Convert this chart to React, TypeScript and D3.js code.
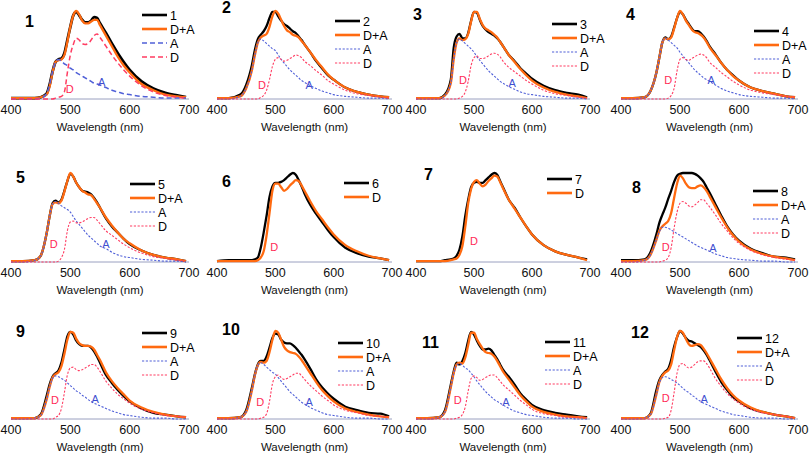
import React from 'react';
import { scaleLinear, line as d3line, curveMonotoneX } from 'd3';

// shared wavelength grid (nm)
const wavelengths = [400, 420, 440, 450, 460, 465, 470, 475, 480, 485, 490, 495, 500, 505, 510, 515, 520, 525, 530, 535, 540, 545, 550, 560, 570, 580, 590, 600, 620, 640, 660, 680, 695];
const xTicks = [400, 500, 600, 700];

// measured spectra (black)
const m1 = [0.01,0.01,0.01,0.02,0.06,0.16,0.31,0.42,0.45,0.46,0.52,0.67,0.82,0.95,0.99,0.95,0.90,0.87,0.87,0.89,0.93,0.92,0.86,0.75,0.63,0.52,0.42,0.33,0.20,0.12,0.07,0.04,0.02];
const m2 = [0.01,0.01,0.05,0.16,0.39,0.56,0.68,0.73,0.77,0.83,0.92,0.99,0.99,0.94,0.89,0.85,0.83,0.80,0.77,0.75,0.71,0.67,0.62,0.53,0.43,0.35,0.27,0.22,0.13,0.08,0.05,0.03,0.02];
const m3 = [0.01,0.01,0.01,0.05,0.22,0.58,0.71,0.74,0.69,0.69,0.75,0.89,0.99,0.98,0.90,0.83,0.79,0.76,0.74,0.72,0.69,0.65,0.60,0.50,0.43,0.35,0.29,0.23,0.15,0.10,0.07,0.05,0.02];
const m4 = [0.01,0.01,0.02,0.09,0.30,0.47,0.64,0.70,0.68,0.71,0.81,0.92,0.99,0.96,0.90,0.85,0.80,0.77,0.77,0.75,0.71,0.66,0.60,0.51,0.41,0.33,0.27,0.21,0.13,0.09,0.06,0.03,0.02];
const m5 = [0.01,0.01,0.02,0.07,0.32,0.51,0.66,0.69,0.67,0.70,0.80,0.91,0.99,0.96,0.89,0.84,0.80,0.79,0.78,0.76,0.72,0.67,0.61,0.49,0.40,0.33,0.26,0.20,0.13,0.08,0.05,0.03,0.01];
const m6 = [0.01,0.02,0.02,0.02,0.02,0.03,0.05,0.16,0.33,0.52,0.73,0.85,0.89,0.89,0.90,0.92,0.95,0.98,1.00,0.98,0.92,0.85,0.77,0.64,0.54,0.45,0.36,0.28,0.16,0.10,0.06,0.04,0.02];
const m7 = [0.01,0.01,0.01,0.02,0.03,0.04,0.07,0.14,0.29,0.52,0.70,0.84,0.89,0.90,0.89,0.89,0.92,0.95,0.98,1.00,0.98,0.91,0.84,0.70,0.61,0.50,0.40,0.31,0.19,0.12,0.08,0.05,0.03];
const m8 = [0.02,0.02,0.03,0.11,0.31,0.44,0.53,0.61,0.71,0.80,0.90,0.97,0.99,1.00,1.00,1.00,1.00,0.99,0.97,0.94,0.90,0.84,0.78,0.65,0.52,0.40,0.31,0.24,0.15,0.10,0.06,0.05,0.03];
const m9 = [0.01,0.01,0.01,0.05,0.26,0.39,0.48,0.52,0.55,0.64,0.79,0.94,0.99,0.96,0.89,0.85,0.83,0.83,0.83,0.81,0.77,0.71,0.64,0.50,0.41,0.33,0.26,0.20,0.12,0.07,0.05,0.03,0.02];
const m10 = [0.01,0.01,0.02,0.10,0.36,0.51,0.62,0.66,0.66,0.71,0.81,0.92,0.97,0.96,0.90,0.87,0.86,0.86,0.84,0.81,0.77,0.73,0.68,0.57,0.45,0.36,0.29,0.23,0.14,0.10,0.07,0.06,0.03];
const m11 = [0.01,0.01,0.02,0.10,0.39,0.54,0.64,0.62,0.66,0.75,0.89,0.99,0.96,0.89,0.83,0.79,0.79,0.80,0.78,0.73,0.68,0.62,0.56,0.48,0.39,0.29,0.22,0.16,0.10,0.07,0.05,0.03,0.02];
const m12 = [0.01,0.01,0.01,0.06,0.33,0.44,0.50,0.54,0.57,0.67,0.82,0.93,1.00,0.97,0.92,0.89,0.88,0.86,0.84,0.82,0.78,0.73,0.67,0.54,0.42,0.33,0.25,0.20,0.12,0.08,0.05,0.03,0.01];

// fitted D+A (orange); panels 6 and 7 show D only
const f1 = [0.01,0.01,0.01,0.02,0.05,0.14,0.30,0.42,0.44,0.45,0.50,0.65,0.82,0.95,1.00,0.96,0.89,0.86,0.86,0.88,0.90,0.90,0.84,0.72,0.60,0.48,0.38,0.30,0.17,0.10,0.05,0.03,0.02];
const f2 = [0.01,0.01,0.03,0.12,0.33,0.50,0.64,0.70,0.72,0.74,0.82,0.94,1.00,0.97,0.90,0.83,0.78,0.76,0.73,0.72,0.70,0.66,0.62,0.53,0.44,0.36,0.28,0.22,0.13,0.08,0.05,0.03,0.02];
const f3 = [0.01,0.01,0.01,0.04,0.18,0.45,0.64,0.69,0.67,0.68,0.74,0.88,0.99,0.99,0.91,0.84,0.80,0.78,0.76,0.73,0.70,0.65,0.60,0.50,0.42,0.34,0.27,0.21,0.13,0.08,0.05,0.03,0.01];
const f4 = [0.01,0.01,0.02,0.09,0.30,0.47,0.64,0.69,0.68,0.70,0.80,0.92,1.00,0.96,0.89,0.84,0.79,0.76,0.75,0.73,0.70,0.65,0.59,0.50,0.41,0.33,0.26,0.21,0.13,0.09,0.06,0.03,0.02];
const f5 = [0.01,0.01,0.02,0.07,0.32,0.51,0.65,0.67,0.66,0.69,0.79,0.91,1.00,0.96,0.89,0.84,0.80,0.78,0.76,0.75,0.71,0.66,0.61,0.50,0.41,0.33,0.26,0.21,0.13,0.08,0.05,0.03,0.01];
const f6 = [0.01,0.01,0.01,0.01,0.01,0.01,0.02,0.05,0.12,0.30,0.55,0.80,0.88,0.88,0.84,0.80,0.82,0.86,0.89,0.92,0.91,0.86,0.80,0.68,0.57,0.48,0.39,0.31,0.19,0.12,0.07,0.04,0.02];
const f7 = [0.01,0.01,0.01,0.01,0.02,0.03,0.04,0.08,0.18,0.40,0.66,0.82,0.90,0.92,0.88,0.85,0.87,0.91,0.94,0.97,0.96,0.90,0.83,0.70,0.60,0.50,0.40,0.31,0.19,0.12,0.08,0.05,0.02];
const f8 = [0.01,0.01,0.02,0.08,0.25,0.35,0.40,0.43,0.46,0.55,0.72,0.88,0.97,0.94,0.88,0.84,0.83,0.83,0.85,0.86,0.84,0.80,0.74,0.62,0.50,0.39,0.30,0.23,0.14,0.09,0.06,0.04,0.02];
const f9 = [0.01,0.01,0.01,0.04,0.22,0.36,0.47,0.51,0.53,0.60,0.74,0.90,0.99,0.98,0.91,0.86,0.84,0.83,0.83,0.82,0.79,0.73,0.67,0.53,0.43,0.35,0.28,0.21,0.13,0.08,0.05,0.03,0.02];
const f10 = [0.01,0.01,0.02,0.08,0.33,0.50,0.61,0.65,0.64,0.66,0.76,0.90,1.00,0.98,0.90,0.82,0.78,0.76,0.75,0.74,0.71,0.67,0.62,0.52,0.42,0.33,0.26,0.20,0.12,0.08,0.05,0.03,0.02];
const f11 = [0.01,0.01,0.02,0.08,0.36,0.52,0.62,0.64,0.63,0.70,0.84,0.98,0.98,0.91,0.85,0.80,0.76,0.75,0.74,0.71,0.66,0.60,0.54,0.45,0.36,0.27,0.20,0.14,0.08,0.05,0.03,0.02,0.01];
const f12 = [0.01,0.01,0.01,0.05,0.28,0.42,0.49,0.53,0.55,0.62,0.78,0.93,1.00,0.98,0.91,0.85,0.83,0.84,0.85,0.84,0.80,0.75,0.69,0.57,0.45,0.35,0.27,0.21,0.13,0.08,0.05,0.03,0.01];

// component A (blue dashed)
const a1 = [0,0,0,0.01,0.06,0.16,0.31,0.42,0.45,0.43,0.40,0.38,0.35,0.33,0.30,0.28,0.26,0.24,0.22,0.20,0.18,0.17,0.16,0.13,0.10,0.08,0.06,0.05,0.03,0.02,0.01,0.01,0.01];
const a2 = [0,0,0.03,0.12,0.33,0.50,0.64,0.68,0.66,0.63,0.60,0.57,0.55,0.50,0.45,0.41,0.37,0.33,0.30,0.27,0.24,0.21,0.19,0.15,0.12,0.09,0.07,0.05,0.03,0.02,0.01,0.01,0];
const a3 = [0,0,0,0.04,0.18,0.45,0.64,0.68,0.66,0.63,0.60,0.57,0.53,0.48,0.44,0.40,0.36,0.32,0.29,0.26,0.23,0.20,0.18,0.14,0.11,0.08,0.06,0.05,0.03,0.02,0.01,0.01,0];
const a4 = [0,0,0.02,0.09,0.30,0.47,0.64,0.69,0.67,0.64,0.61,0.58,0.53,0.49,0.45,0.41,0.37,0.33,0.30,0.27,0.24,0.22,0.20,0.16,0.12,0.09,0.07,0.05,0.03,0.02,0.01,0.01,0];
const a5 = [0,0,0.02,0.07,0.32,0.51,0.65,0.68,0.66,0.63,0.61,0.59,0.56,0.51,0.46,0.42,0.38,0.34,0.30,0.27,0.24,0.21,0.18,0.15,0.11,0.08,0.06,0.05,0.03,0.02,0.01,0.01,0];
const a8 = [0,0,0.02,0.08,0.25,0.34,0.39,0.39,0.38,0.36,0.34,0.32,0.30,0.28,0.26,0.24,0.22,0.20,0.18,0.165,0.15,0.135,0.12,0.09,0.07,0.05,0.04,0.03,0.02,0.01,0.01,0,0];
const a9 = [0,0,0.01,0.04,0.22,0.36,0.46,0.49,0.48,0.46,0.44,0.41,0.38,0.35,0.32,0.30,0.27,0.25,0.22,0.20,0.18,0.165,0.15,0.12,0.09,0.07,0.05,0.04,0.02,0.01,0.01,0,0];
const a10 = [0,0,0.02,0.08,0.33,0.50,0.61,0.64,0.62,0.59,0.56,0.53,0.51,0.47,0.43,0.39,0.35,0.31,0.28,0.25,0.22,0.19,0.17,0.13,0.10,0.07,0.05,0.04,0.02,0.01,0.01,0,0];
const a11 = [0,0,0.02,0.08,0.36,0.52,0.61,0.63,0.61,0.58,0.56,0.52,0.48,0.43,0.39,0.35,0.31,0.28,0.25,0.22,0.20,0.18,0.16,0.12,0.09,0.07,0.05,0.04,0.02,0.01,0.01,0,0];
const a12 = [0,0,0.01,0.05,0.28,0.41,0.47,0.48,0.47,0.45,0.43,0.41,0.38,0.35,0.32,0.30,0.27,0.25,0.22,0.20,0.18,0.165,0.15,0.12,0.09,0.07,0.05,0.04,0.02,0.01,0.01,0,0];

// component D (red dashed)
const d1 = [0,0,0,0,0,0,0,0.01,0.02,0.03,0.08,0.30,0.50,0.62,0.69,0.67,0.63,0.62,0.63,0.67,0.72,0.74,0.70,0.60,0.50,0.41,0.33,0.26,0.15,0.08,0.04,0.02,0.01];
const d2 = [0,0,0,0,0,0,0,0.02,0.04,0.10,0.22,0.37,0.45,0.47,0.45,0.43,0.44,0.46,0.48,0.50,0.49,0.47,0.43,0.38,0.32,0.27,0.21,0.17,0.10,0.06,0.04,0.02,0.01];
const d3 = [0,0,0,0,0,0,0,0.01,0.03,0.08,0.20,0.38,0.47,0.49,0.46,0.46,0.47,0.49,0.51,0.52,0.51,0.48,0.43,0.36,0.31,0.26,0.21,0.17,0.10,0.06,0.04,0.02,0.01];
const d4 = [0,0,0,0,0,0,0,0,0.01,0.04,0.12,0.32,0.45,0.47,0.45,0.44,0.46,0.48,0.50,0.51,0.50,0.47,0.42,0.36,0.30,0.25,0.20,0.16,0.10,0.07,0.05,0.03,0.02];
const d5 = [0,0,0,0,0,0,0,0,0.01,0.05,0.14,0.35,0.45,0.46,0.44,0.44,0.45,0.47,0.49,0.50,0.50,0.47,0.43,0.35,0.30,0.25,0.20,0.16,0.10,0.06,0.04,0.02,0.01];
const d8 = [0,0,0,0,0,0,0.01,0.02,0.05,0.16,0.38,0.56,0.66,0.68,0.66,0.63,0.62,0.64,0.67,0.70,0.70,0.66,0.62,0.53,0.43,0.35,0.27,0.21,0.13,0.08,0.05,0.03,0.02];
const d9 = [0,0,0,0,0,0,0,0.02,0.04,0.12,0.30,0.50,0.58,0.59,0.56,0.55,0.56,0.58,0.60,0.62,0.62,0.59,0.54,0.43,0.35,0.28,0.23,0.18,0.11,0.07,0.04,0.03,0.02];
const d10 = [0,0,0,0,0,0,0,0.01,0.02,0.06,0.20,0.40,0.48,0.50,0.47,0.45,0.46,0.48,0.50,0.52,0.52,0.49,0.45,0.38,0.32,0.26,0.21,0.16,0.10,0.07,0.04,0.03,0.02];
const d11 = [0,0,0,0,0,0,0.01,0.02,0.05,0.14,0.32,0.46,0.49,0.47,0.44,0.45,0.47,0.49,0.50,0.50,0.47,0.43,0.39,0.33,0.27,0.21,0.16,0.11,0.06,0.04,0.02,0.02,0.01];
const d12 = [0,0,0,0,0,0,0,0.01,0.02,0.10,0.30,0.52,0.62,0.63,0.60,0.58,0.59,0.62,0.65,0.66,0.66,0.63,0.58,0.46,0.37,0.29,0.23,0.18,0.11,0.07,0.05,0.03,0.01];

const panelNames = ['1','2','3','4','5','6','7','8','9','10','11','12'];
const measuredSeries = [m1,m2,m3,m4,m5,m6,m7,m8,m9,m10,m11,m12];
const fitSeries = [f1,f2,f3,f4,f5,f6,f7,f8,f9,f10,f11,f12];
const aSeries = [a1,a2,a3,a4,a5,null,null,a8,a9,a10,a11,a12];
const dSeries = [d1,d2,d3,d4,d5,null,null,d8,d9,d10,d11,d12];
const fitNames = ['D+A','D+A','D+A','D+A','D+A','D','D','D+A','D+A','D+A','D+A','D+A'];
// in-plot annotation anchors in data units [wavelength, intensity]
const dLabelAt = [[499,0.11],[477,0.16],[481,0.22],[480,0.22],[472,0.20],[498,0.17],[500,0.24],[476,0.17],[474,0.22],[474,0.19],[472,0.22],[476,0.24]];
const aLabelAt = [[553,0.19],[558,0.16],[566,0.18],[553,0.22],[560,0.20],null,null,[556,0.16],[542,0.23],[558,0.19],[555,0.19],[541,0.23]];

// ---- layout (pixels) ----
const COLS = [[11,189],[217,392],[416,590],[621,798]];
const ROWS = [[99,11],[262,173],[419,331]];
const LEGEND_POS = [[142,15],[335,21],[552,24],[754,31],[130,184],[344,183],[547,179],[753,191],[142,333],[338,343],[545,342],[737,338]];
const NUM_POS = [[25,27],[222,13],[413,20],[626,20],[16,183],[222,187],[424,180],[632,193],[16,337],[222,335],[422,348],[631,338]];

const FONT = 'Liberation Sans, Arial, sans-serif';
const BLACK = '#000';
const ORANGE = '#ff6a10';
const BLUE = '#5060d8';
const RED = '#ff3d62';

function Panel({ i }: { i: number }) {
  const col = i % 4, row = Math.floor(i / 4);
  const [x0, x1] = COLS[col];
  const [base, top] = ROWS[row];
  const x = scaleLinear().domain([400, 700]).range([x0, x1]);
  const y = scaleLinear().domain([0, 1]).range([base, top]);
  const line = d3line<number>().x((_, k) => x(wavelengths[k])).y(v => y(v)).curve(curveMonotoneX);
  const first = i === 0;
  const dashA = first ? '5,3' : '2.2,1.6';
  const dashW = first ? 1.5 : 1.1;
  const [lx, ly] = LEGEND_POS[i];
  const legend: { name: string; color: string; w: number; dash?: string }[] = [
    { name: panelNames[i], color: BLACK, w: 2.6 },
    { name: fitNames[i], color: ORANGE, w: 2.6 },
  ];
  if (aSeries[i]) {
    legend.push({ name: 'A', color: BLUE, w: dashW, dash: dashA });
    legend.push({ name: 'D', color: RED, w: dashW, dash: dashA });
  }
  return (
    <g>
      <line x1={x0} x2={x1} y1={base} y2={base} stroke="#9aa0c0" strokeWidth={1} />
      {xTicks.map(t => (
        <text key={t} x={x(t)} y={base + 15} textAnchor="middle" fontSize={12.5} fontFamily={FONT} fill="#111">{t}</text>
      ))}
      <text x={(x0 + x1) / 2} y={base + 32} textAnchor="middle" fontSize={11.5} fontFamily={FONT} fill="#111">Wavelength (nm)</text>
      <path d={line(measuredSeries[i]) || ''} fill="none" stroke={BLACK} strokeWidth={first ? 2.8 : 2.3} strokeLinejoin="round" />
      <path d={line(fitSeries[i]) || ''} fill="none" stroke={ORANGE} strokeWidth={2.3} strokeLinejoin="round" />
      {aSeries[i] && <path d={line(aSeries[i] as number[]) || ''} fill="none" stroke={BLUE} strokeWidth={dashW} strokeDasharray={dashA} />}
      {dSeries[i] && <path d={line(dSeries[i] as number[]) || ''} fill="none" stroke={RED} strokeWidth={dashW} strokeDasharray={dashA} />}
      <text x={x(dLabelAt[i][0])} y={y(dLabelAt[i][1]) + 4} textAnchor="middle" fontSize={11} fontFamily={FONT} fill="#ff2a55">D</text>
      {aLabelAt[i] && <text x={x((aLabelAt[i] as number[])[0])} y={y((aLabelAt[i] as number[])[1]) + 4} textAnchor="middle" fontSize={11} fontFamily={FONT} fill="#3f4fd0">A</text>}
      <text x={NUM_POS[i][0]} y={NUM_POS[i][1]} fontSize={16} fontWeight="bold" fontFamily={FONT} fill="#000">{panelNames[i]}</text>
      {legend.map((e, k) => (
        <g key={k}>
          <line x1={lx} x2={lx + 25} y1={ly + k * 14} y2={ly + k * 14} stroke={e.color} strokeWidth={e.w} strokeDasharray={e.dash} />
          <text x={lx + 28} y={ly + k * 14 + 4.5} fontSize={12.5} fontFamily={FONT} fill="#000">{e.name}</text>
        </g>
      ))}
    </g>
  );
}

export default function App() {
  return (
    <svg width={810} height={456} style={{ position: 'absolute', left: 0, top: 0, background: '#fff' }}>
      <rect width={810} height={456} fill="#fff" />
      {panelNames.map((_, i) => <Panel key={i} i={i} />)}
    </svg>
  );
}
